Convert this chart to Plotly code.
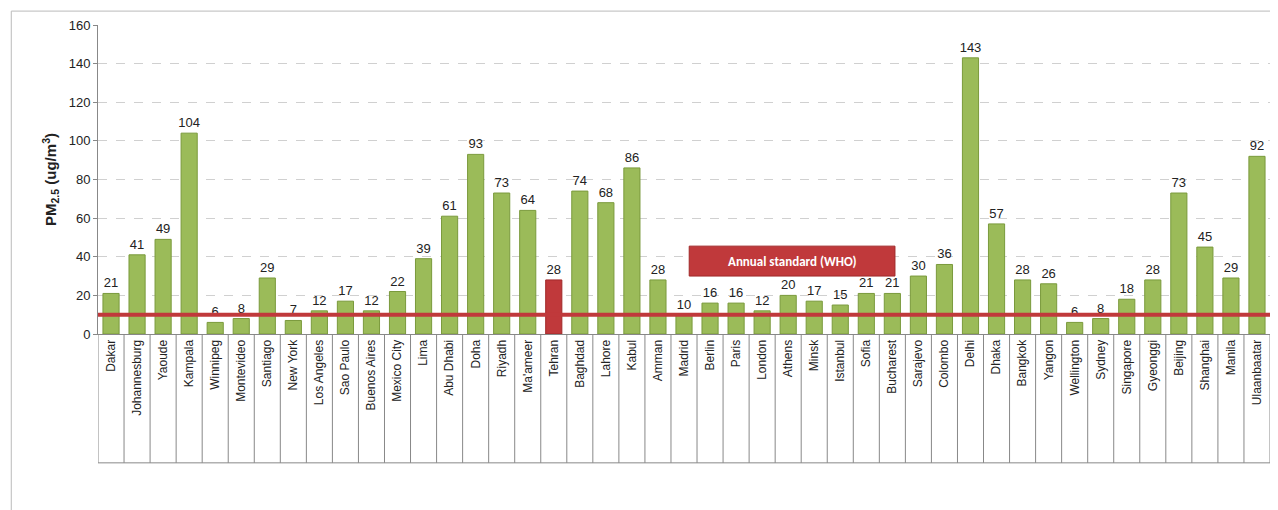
import plotly.graph_objects as go

cities = ["Dakar", "Johannesburg", "Yaoude", "Kampala", "Winnipeg", "Montevideo", "Santiago",
          "New York", "Los Angeles", "Sao Paulo", "Buenos Aires", "Mexico City", "Lima",
          "Abu Dhabi", "Doha", "Riyadh", "Ma'ameer", "Tehran", "Baghdad", "Lahore", "Kabul",
          "Amman", "Madrid", "Berlin", "Paris", "London", "Athens", "Minsk", "Istanbul",
          "Sofia", "Bucharest", "Sarajevo", "Colombo", "Delhi", "Dhaka", "Bangkok", "Yangon",
          "Wellington", "Sydney", "Singapore", "Gyeonggi", "Beijing", "Shanghai", "Manila",
          "Ulaanbaatar"]
pm25 = [21, 41, 49, 104, 6, 8, 29, 7, 12, 17, 12, 22, 39, 61, 93, 73, 64, 28, 74, 68, 86,
        28, 10, 16, 16, 12, 20, 17, 15, 21, 21, 30, 36, 143, 57, 28, 26, 6, 8, 18, 28, 73,
        45, 29, 92]
who_standard = 10
highlight = "Tehran"

colors = ["#C0393B" if c == highlight else "#9BBB59" for c in cities]
lines = ["#A02828" if c == highlight else "#7A9A3C" for c in cities]

fig = go.Figure()
fig.add_trace(go.Bar(
    x=cities, y=pm25, marker=dict(color=colors, line=dict(color=lines, width=1)),
    text=pm25, textposition="outside", textfont=dict(size=13, color="#222"),
    constraintext="none", cliponaxis=False, width=0.62, showlegend=False,
))

shapes = [
    dict(type="line", xref="paper", x0=0, x1=1, yref="y", y0=who_standard, y1=who_standard,
         line=dict(color="#C0393B", width=4)),
    dict(type="rect", xref="paper", yref="paper", x0=-0.074, x1=1.011, y0=-0.58, y1=1.045,
         line=dict(color="#BBBBBB", width=1)),
]
for i in range(len(cities) + 1):
    shapes.append(dict(type="line", xref="x", yref="paper", x0=i - 0.5, x1=i - 0.5,
                       y0=0, y1=-0.417, line=dict(color="#888", width=1)))
shapes.append(dict(type="line", xref="paper", yref="paper", x0=0, x1=1, y0=-0.417, y1=-0.417,
                   line=dict(color="#888", width=1)))
shapes.append(dict(type="rect", xref="x", yref="y", x0=22.2, x1=30.1, y0=30, y1=45.5,
                   fillcolor="#C0393B", line=dict(color="#A02828", width=1)))
fig.update_layout(shapes=shapes)

fig.add_annotation(x=26.15, y=37.7, xref="x", yref="y", text="<b>Annual standard (WHO)</b>",
                   showarrow=False, font=dict(color="white", size=13, family="Carlito, Calibri, Liberation Sans"))

fig.update_layout(
    width=1278, height=510,
    margin=dict(l=90, r=16, t=17, b=184),
    plot_bgcolor="white", paper_bgcolor="white",
    font=dict(family="Liberation Sans, Arial", color="#222"),
    xaxis=dict(tickangle=-90, tickfont=dict(size=12), showline=True, linecolor="#888",
               ticks="", automargin=False, range=[-0.5, len(cities) - 0.5]),
    yaxis=dict(range=[0, 160], dtick=20, showgrid=True, gridcolor="#D0D0D0", griddash="dash",
               showline=True, linecolor="#888", ticks="outside", ticklen=4, tickcolor="#888",
               tickfont=dict(size=13), automargin=False,
               title=dict(text="<b>PM<sub>2.5</sub> (ug/m<sup>3</sup>)</b>", font=dict(size=15),
                          standoff=8)),
)

fig.write_html("out.html")
